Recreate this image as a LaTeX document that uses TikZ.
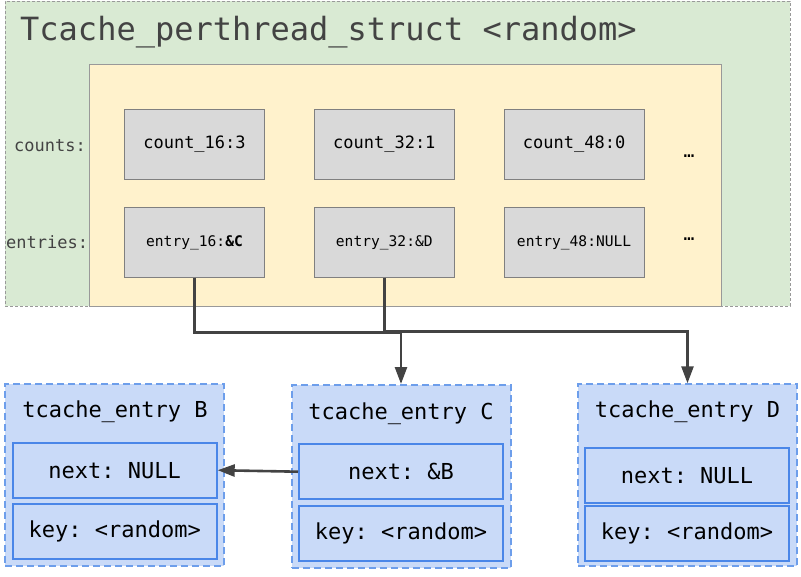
\documentclass[tikz,border=0pt]{standalone}
\usepackage{fontspec}
\setmonofont{DejaVu Sans Mono}
\usetikzlibrary{arrows.meta,positioning}

\definecolor{structfill}{HTML}{D9EAD3}
\definecolor{arrayfill}{HTML}{FFF2CC}
\definecolor{slotfill}{HTML}{D9D9D9}
\definecolor{entryfill}{HTML}{C9DAF8}
\definecolor{entrydash}{HTML}{6D9EEB}
\definecolor{fieldline}{HTML}{4A86E8}
\definecolor{darktext}{HTML}{434343}

\newcommand{\mono}[1]{\ttfamily\fontsize{#1}{#1}\selectfont}

\begin{document}
\begin{tikzpicture}[x=1pt,y=-1pt,>={Triangle[length=17pt,width=12pt]},
  struct/.style={draw=gray!80,fill=structfill,line width=0.8pt,dash pattern=on 3pt off 2pt,inner sep=0pt},
  bins/.style={draw=gray!80,fill=arrayfill,line width=0.8pt,inner sep=0pt},
  slot/.style={draw=gray,fill=slotfill,line width=0.8pt,minimum width=140pt,minimum height=70pt,inner sep=0pt},
  side label/.style={anchor=west,inner sep=0pt,text=darktext,font=\mono{17}},
  entry box/.style={draw=entrydash,fill=entryfill,line width=2pt,dash pattern=on 7pt off 4pt,minimum width=219pt,minimum height=182pt,inner sep=0pt},
  entry title/.style={anchor=base,inner sep=0pt,font=\mono{22}},
  field/.style={draw=fieldline,fill=entryfill,line width=2pt,minimum width=204pt,minimum height=55pt,inner sep=0pt,font=\mono{22}},
  link/.style={->,draw=darktext,line width=2.6pt}]

  \useasboundingbox (0,0) rectangle (801,576);

  % the per-thread struct
  \node[struct,minimum width=785pt,minimum height=305pt] (perthread) at (397.5,153.5) {};
  \node[anchor=base west,inner sep=0pt,text=darktext,font=\mono{32}] (title) at (20,40) {Tcache\_perthread\_struct <random>};
  \node[bins,minimum width=632pt,minimum height=242pt] (array) at (405.5,185) {};

  \node[side label] (countslbl) at (14,146) {counts:};
  \node[side label] (entrieslbl) at (6,242) {entries:};

  \node[slot,font=\mono{17}] (count16) at (194.5,144.5) {count\_16:3};
  \node[slot,font=\mono{17}] (count32) [right=49pt of count16] {count\_32:1};
  \node[slot,font=\mono{17}] (count48) [right=49pt of count32] {count\_48:0};
  \node[slot,font=\mono{14.6}] (entry16) [below=27pt of count16] {entry\_16:\textbf{\&C}};
  \node[slot,font=\mono{14.6}] (entry32) [below=27pt of count32] {entry\_32:\&D};
  \node[slot,font=\mono{14.6}] (entry48) [below=27pt of count48] {entry\_48:NULL};

  \node[anchor=base,inner sep=0pt,font=\mono{18}] (morecounts) at (689,157) {…};
  \node[anchor=base,inner sep=0pt,font=\mono{18}] (moreentries) at (689,240) {…};

  % the chunks
  \node[entry box] (entryB) at (114.5,475) {};
  \node[entry title] (titleB) at (115,417) {tcache\_entry B};
  \node[field] (nextB) at (114.7,470.2) {next: NULL};
  \node[field] (keyB) at (114.7,531.7) {key: <random>};

  \node[entry box,minimum height=183pt] (entryC) at (401,476.5) {};
  \node[entry title] (titleC) at (401,419) {tcache\_entry C};
  \node[field] (nextC) at (401,471.7) {next: \&B};
  \node[field] (keyC) at (401,533.8) {key: <random>};

  \node[entry box] (entryD) at (687.5,475.3) {};
  \node[entry title] (titleD) at (687.5,417) {tcache\_entry D};
  \node[field] (nextD) at (687,475.2) {next: NULL};
  \node[field] (keyD) at (687,533.5) {key: <random>};

  \draw[link] (entry16.south) -- ++(0,55) -| (entryC.north);
  \draw[link] (entry32.south) -- ++(0,54) -| (entryD.north);
  \draw[link] (nextC.west) -- (nextB.east);
\end{tikzpicture}
\end{document}
